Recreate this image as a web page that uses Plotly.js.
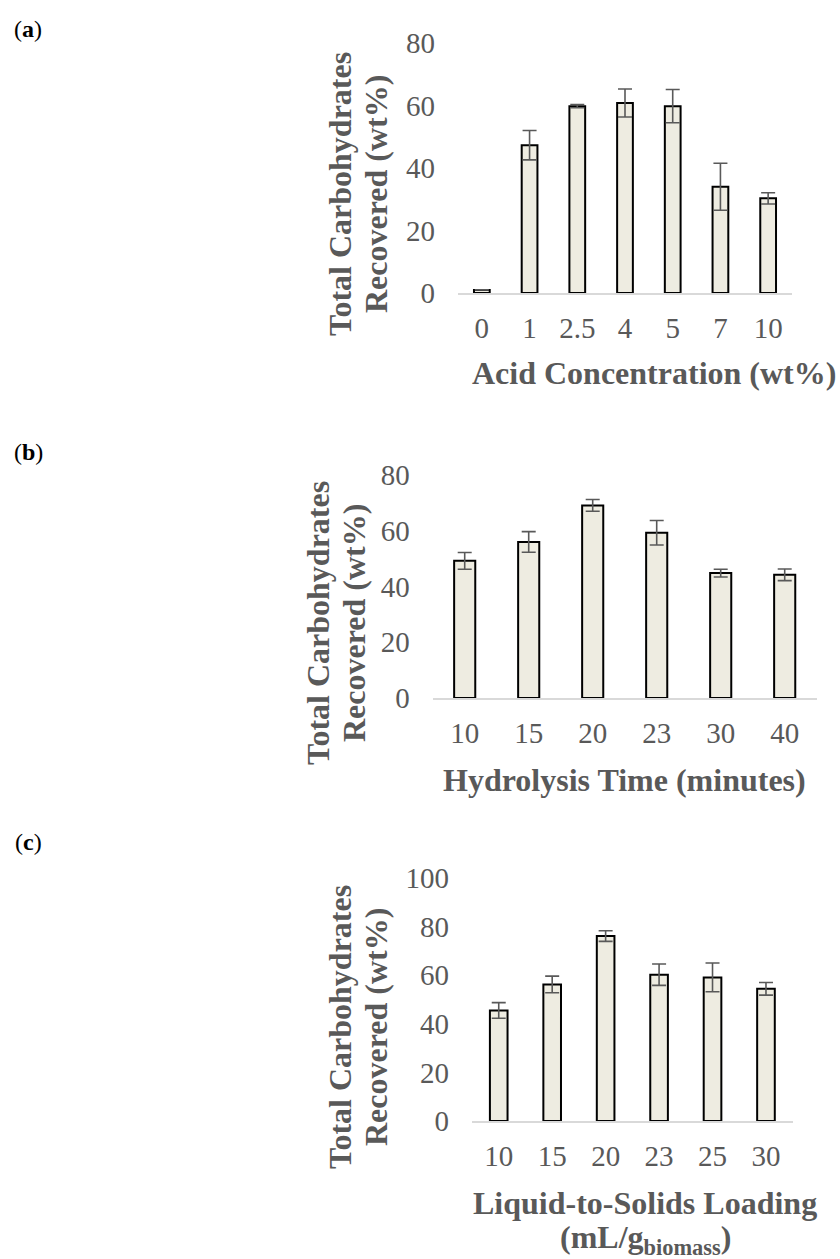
<!DOCTYPE html>
<html>
<head>
<meta charset="utf-8">
<script src="https://cdn.plot.ly/plotly-3.0.1.min.js"></script>
<style>
html,body{margin:0;padding:0;background:#fff;}
#chart{width:840px;height:1259px;}
</style>
</head>
<body>
<div id="chart"></div>
<script>
// Panel (a): acid concentration
var acidCats = ['0', '1', '2.5', '4', '5', '7', '10'];
var acidVals = [1, 47.3, 59.8, 60.8, 59.8, 34.0, 30.3];
var acidErr  = [0, 4.7, 0.5, 4.5, 5.3, 7.5, 1.8];

// Panel (b): hydrolysis time
var timeCats = ['10', '15', '20', '23', '30', '40'];
var timeVals = [49.2, 56.0, 69.1, 59.3, 44.8, 44.2];
var timeErr  = [3.0, 3.7, 2.1, 4.4, 1.4, 2.1];

// Panel (c): liquid-to-solids loading
var loadCats = ['10', '15', '20', '23', '25', '30'];
var loadVals = [45.5, 56.2, 76.1, 60.2, 59.1, 54.4];
var loadErr  = [3.2, 3.4, 2.2, 4.4, 5.9, 2.6];

var yTitle1 = 'Total Carbohydrates';
var yTitle2 = 'Recovered (wt%)';
var xTitleA = 'Acid Concentration (wt%)';
var xTitleB = 'Hydrolysis Time (minutes)';
var xTitleC1 = 'Liquid-to-Solids Loading';
var xTitleC2 = '(mL/g<sub>biomass</sub>)';
var panelLabels = ['(<b>a</b>)', '(<b>b</b>)', '(<b>c</b>)'];

var W = 840, H = 1259;
function px(x){ return x / W; }
function py(y){ return 1 - y / H; }

var GRAY = '#595959';
var SERIF = 'Liberation Serif, Times New Roman, serif';
var TICK = 29, TITLE = 32;

function barTrace(cats, vals, errs, xa, ya){
  return {
    type: 'bar', x: cats, y: vals, xaxis: xa, yaxis: ya,
    width: 0.33,
    marker: {color: '#EEECE1', line: {color: '#000000', width: 2}},
    error_y: {type: 'data', array: errs, visible: true, color: GRAY, thickness: 1.6, width: 7},
    hoverinfo: 'x+y', showlegend: false
  };
}

var data = [
  barTrace(acidCats, acidVals, acidErr, 'x', 'y'),
  barTrace(timeCats, timeVals, timeErr, 'x2', 'y2'),
  barTrace(loadCats, loadVals, loadErr, 'x3', 'y3')
];

function xAxis(d0, d1, anchor){
  return {
    domain: [px(d0), px(d1)], anchor: anchor, type: 'category',
    showline: true, linecolor: '#D9D9D9', linewidth: 1.5,
    showgrid: false, zeroline: false, ticks: '',
    tickfont: {family: SERIF, size: TICK, color: GRAY},
    ticklabelstandoff: 9, fixedrange: true
  };
}
function yAxis(top, bottom, maxv, anchor){
  return {
    domain: [py(bottom), py(top)], anchor: anchor,
    range: [0, maxv], dtick: 20, tick0: 0,
    showline: false, showgrid: false, zeroline: false, ticks: '',
    tickfont: {family: SERIF, size: TICK, color: GRAY},
    ticklabelstandoff: 22, fixedrange: true
  };
}

function ann(text, x, y, opts){
  var a = {
    text: text, xref: 'paper', yref: 'paper', x: px(x), y: py(y),
    xanchor: 'center', yanchor: 'middle', showarrow: false,
    font: {family: SERIF, size: TITLE, color: GRAY}
  };
  for (var k in opts) a[k] = opts[k];
  return a;
}

var annotations = [
  // y titles
  ann('<b>' + yTitle1 + '</b>', 340, 194, {textangle: -90}),
  ann('<b>' + yTitle2 + '</b>', 376, 194, {textangle: -90}),
  ann('<b>' + yTitle1 + '</b>', 318, 623, {textangle: -90}),
  ann('<b>' + yTitle2 + '</b>', 354, 623, {textangle: -90}),
  ann('<b>' + yTitle1 + '</b>', 340, 1027, {textangle: -90}),
  ann('<b>' + yTitle2 + '</b>', 376, 1027, {textangle: -90}),
  // x titles
  ann('<b>' + xTitleA + '</b>', 838, 373, {xanchor: 'right'}),
  ann('<b>' + xTitleB + '</b>', 624, 780),
  ann('<b>' + xTitleC1 + '</b>', 645, 1203),
  ann('<b>' + xTitleC2 + '</b>', 645, 1239),
  // panel labels
  ann(panelLabels[0], 28, 29, {font: {family: SERIF, size: 24, color: '#000'}}),
  ann(panelLabels[1], 28, 452, {font: {family: SERIF, size: 24, color: '#000'}}),
  ann(panelLabels[2], 28, 842, {font: {family: SERIF, size: 24, color: '#000'}})
];

var layout = {
  width: W, height: H,
  margin: {l: 0, r: 0, t: 0, b: 0},
  paper_bgcolor: '#ffffff', plot_bgcolor: '#ffffff',
  showlegend: false,
  xaxis: xAxis(458, 792, 'y'),
  yaxis: yAxis(43, 293, 80, 'x'),
  xaxis2: xAxis(432.7, 816.7, 'y2'),
  yaxis2: yAxis(475, 698, 80, 'x2'),
  xaxis3: xAxis(472, 792.7, 'y3'),
  yaxis3: yAxis(878, 1121, 100, 'x3'),
  annotations: annotations
};

Plotly.newPlot('chart', data, layout, {displayModeBar: false, staticPlot: true});
</script>
</body>
</html>
